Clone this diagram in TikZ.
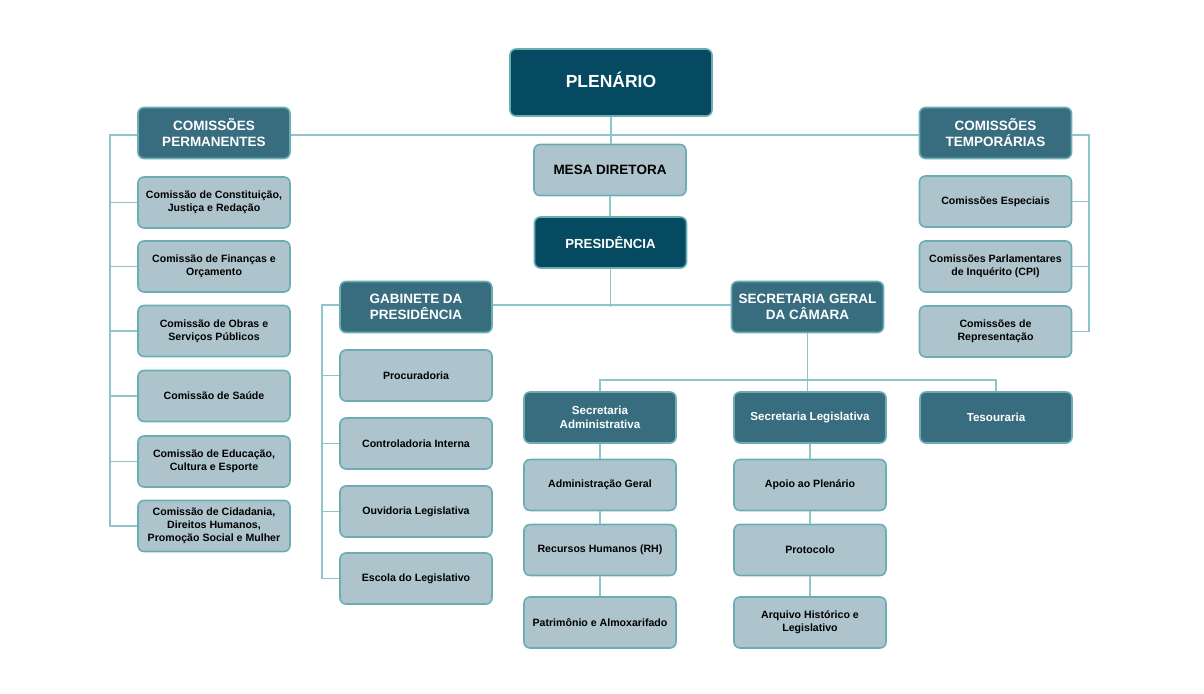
\documentclass[tikz,border=0pt]{standalone}
\usepackage{fontspec}
\setmainfont{Liberation Sans}
\definecolor{cdark}{HTML}{054A60}
\definecolor{cmid}{HTML}{386C7F}
\definecolor{clight}{HTML}{ADC4CC}
\definecolor{cborder}{HTML}{6AAEB3}
\definecolor{cline}{HTML}{8EC5CA}
\tikzset{
  box/.style={draw=cborder, line width=1.6pt, rounded corners=6pt, minimum width=152pt, minimum height=51pt, inner sep=0pt, align=center, font=\bfseries},
  darkbox/.style={box, fill=cdark, text=white, font=\bfseries\fontsize{13.2}{15}\selectfont},
  midbox/.style={box, fill=cmid, text=white, font=\bfseries\fontsize{13.5}{16}\selectfont},
  subbox/.style={box, fill=cmid, text=white, font=\bfseries\fontsize{11.6}{14}\selectfont},
  lightbox/.style={box, fill=clight, text=black, font=\bfseries\fontsize{10.6}{13}\selectfont},
  conn/.style={draw=cline, line width=1.2pt}
}
\begin{document}
\begin{tikzpicture}[x=1pt,y=-1pt]
\useasboundingbox (0,0) rectangle (1204,693);
% top
\node[darkbox, minimum width=202pt, minimum height=67pt, font=\bfseries\fontsize{17.5}{20}\selectfont] (plen) at (611,82.5) {\raisebox{6pt}{PLENÁRIO}};
\node[midbox] (perm) at (214,133) {COMISSÕES\\PERMANENTES};
\node[midbox] (temp) at (995.5,133) {COMISSÕES\\TEMPORÁRIAS};
\node[lightbox, font=\bfseries\fontsize{13.5}{15}\selectfont] (mesa) at (610,170) {MESA DIRETORA};
\node[darkbox] (pres) at (610.5,242.5) {PRESIDÊNCIA};
% left column
\node[lightbox] (p1) at (214,202.5) {Comissão de Constituição,\\Justiça e Redação};
\node[lightbox] (p2) at (214,266.5) {Comissão de Finanças e\\Orçamento};
\node[lightbox] (p3) at (214,331) {Comissão de Obras e\\Serviços Públicos};
\node[lightbox] (p4) at (214,396) {Comissão de Saúde};
\node[lightbox] (p5) at (214,461.5) {Comissão de Educação,\\Cultura e Esporte};
\node[lightbox] (p6) at (214,526) {Comissão de Cidadania,\\Direitos Humanos,\\Promoção Social e Mulher};
% right column
\node[lightbox] (t1) at (995.5,201.5) {Comissões Especiais};
\node[lightbox] (t2) at (995.5,266.5) {Comissões Parlamentares\\de Inquérito (CPI)};
\node[lightbox] (t3) at (995.5,331.5) {Comissões de\\Representação};
% gabinete
\node[midbox] (gab) at (416,307) {GABINETE DA\\PRESIDÊNCIA};
\node[lightbox] (g1) at (416,375.5) {Procuradoria};
\node[lightbox] (g2) at (416,443.5) {Controladoria Interna};
\node[lightbox] (g3) at (416,511.5) {Ouvidoria Legislativa};
\node[lightbox] (g4) at (416,578.5) {Escola do Legislativo};
% secretaria geral
\node[midbox] (sg) at (807.5,307) {SECRETARIA GERAL\\DA CÂMARA};
\node[subbox] (sa) at (600,417.5) {Secretaria\\Administrativa};
\node[subbox] (sl) at (810,417.5) {Secretaria Legislativa};
\node[subbox] (te) at (996,417.5) {Tesouraria};
\node[lightbox] (a1) at (600,485) {Administração Geral};
\node[lightbox] (a2) at (600,550) {Recursos Humanos (RH)};
\node[lightbox] (a3) at (600,622.5) {Patrimônio e Almoxarifado};
\node[lightbox] (l1) at (810,485) {Apoio ao Plenário};
\node[lightbox] (l2) at (810,550) {Protocolo};
\node[lightbox] (l3) at (810,622.5) {Arquivo Histórico e\\Legislativo};
% spines
\coordinate (lsp) at (110,0);
\coordinate (rsp) at (1089,0);
\coordinate (gsp) at (322,0);
\coordinate (bus) at (0,380);
\path[conn] ([yshift=-2pt]perm.east) -- ([yshift=-2pt]temp.west);
\path[conn] (plen.south) -- (plen.south |- mesa.north);
\path[conn] (mesa.south) -- (mesa.south |- pres.north);
\path[conn] ([yshift=2pt]gab.east) -- ([yshift=2pt]sg.west);
\path[conn] (pres.south) -- (pres.south |- gab.east);
\path[conn] ([yshift=-2pt]perm.west) -| (lsp |- p6.west) -- (p6.west);
\foreach \n in {p1,p2,p3,p4,p5} \path[conn] (\n.west) -- (\n.west -| lsp);
\path[conn] ([yshift=-2pt]temp.east) -| (rsp |- t3.east) -- (t3.east);
\foreach \n in {t1,t2} \path[conn] (\n.east) -- (\n.east -| rsp);
\path[conn] ([yshift=2pt]gab.west) -| (gsp |- g4.west) -- (g4.west);
\foreach \n in {g1,g2,g3} \path[conn] (\n.west) -- (\n.west -| gsp);
\path[conn] (sg.south) -- (sg.south |- sl.north);
\path[conn] (sa.north) -- (sa.north |- bus) -| (te.north);
\path[conn] (sa) -- (a1) -- (a2) -- (a3);
\path[conn] (sl) -- (l1) -- (l2) -- (l3);
\end{tikzpicture}
\end{document}
